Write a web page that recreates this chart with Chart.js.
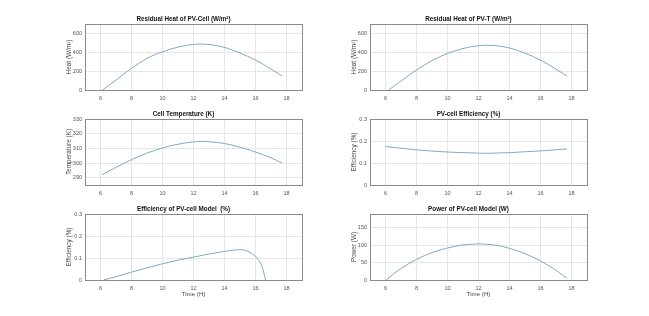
<!DOCTYPE html>
<html>
<head>
<meta charset="utf-8">
<script src="https://cdn.jsdelivr.net/npm/chart.js@4.4.1/dist/chart.umd.min.js"></script>
<style>
  html, body { margin: 0; padding: 0; background: #fff; }
  body { width: 649px; height: 316px; position: relative; overflow: hidden; }
  canvas { position: absolute; }
</style>
</head>
<body>
<canvas id="c1"></canvas>
<canvas id="c2"></canvas>
<canvas id="c3"></canvas>
<canvas id="c4"></canvas>
<canvas id="c5"></canvas>
<canvas id="c6"></canvas>
<script>
// Time axis ticks (hours)
const xTicks = [6, 8, 10, 12, 14, 16, 18];

// Residual heat of PV-cell (W/m2)
const heatCellTime = [6.15, 6.5, 7, 7.5, 8, 8.5, 9, 9.5, 10, 10.5, 11, 11.5, 12, 12.5, 13, 13.5, 14, 14.5, 15, 15.5, 16, 16.5, 17, 17.7];
const heatCell = [0, 45, 105, 170, 230, 285, 335, 375, 405, 433, 455, 472, 483, 487, 483, 470, 452, 425, 392, 357, 318, 272, 222, 150];

// Residual heat of PV-T (W/m2)
const heatPvtTime = [6.2, 6.5, 7, 7.5, 8, 8.5, 9, 9.5, 10, 10.5, 11, 11.5, 12, 12.5, 13, 13.5, 14, 14.5, 15, 15.5, 16, 16.5, 17, 17.7];
const heatPvt = [0, 35, 95, 155, 212, 265, 312, 352, 388, 416, 440, 458, 470, 475, 472, 462, 446, 421, 391, 356, 317, 271, 221, 150];
const heatTicks = [0, 200, 400, 600];

// Cell temperature (K)
const tempTime = [6.1, 7, 8, 9, 10, 11, 12, 12.5, 13, 14, 15, 16, 17, 17.7];
const cellTemp = [292, 297, 302.3, 306.7, 310.3, 312.8, 314.4, 314.7, 314.5, 313.3, 310.8, 307.5, 303.5, 300];
const tempTicks = [290, 300, 310, 320, 330];

// PV-cell efficiency
const effTime = [6, 7, 8, 9, 10, 11, 12, 12.5, 13, 14, 15, 16, 17, 17.7];
const cellEff = [0.175, 0.167, 0.16, 0.154, 0.15, 0.147, 0.145, 0.144, 0.145, 0.147, 0.151, 0.155, 0.16, 0.164];
const effTicks = [0, 0.1, 0.2, 0.3];

// Efficiency of PV-cell model
const modelEffTime = [6.2, 7, 8, 9, 10, 11, 12, 13, 14, 14.5, 15, 15.4, 15.8, 16.1, 16.4, 16.55, 16.65];
const modelEff = [0, 0.015, 0.036, 0.055, 0.074, 0.09, 0.104, 0.118, 0.13, 0.135, 0.138, 0.134, 0.118, 0.1, 0.065, 0.03, 0];

// Power of PV-cell model (W)
const powerTime = [6.05, 6.5, 7, 7.5, 8, 8.5, 9, 9.5, 10, 10.5, 11, 11.5, 12, 12.5, 13, 13.5, 14, 14.5, 15, 15.5, 16, 16.5, 17, 17.7];
const power = [0, 17, 33, 47, 59, 70, 79, 86, 92, 97, 101, 103, 104, 103, 101, 97, 91, 84, 76, 66, 55, 42, 28, 5];
const powerTicks = [0, 50, 100, 150];

const FONT = 'Arial, "Liberation Sans", Helvetica, sans-serif';
const LINE = '#7eaac6';

// Draw the full box around the axes area (MATLAB style)
const boxPlugin = {
    id: 'box',
    afterDraw(chart) {
        const a = chart.chartArea;
        const ctx = chart.ctx;
        ctx.save();
        ctx.strokeStyle = '#8a8a8a';
        ctx.lineWidth = 1;
        ctx.strokeRect(Math.round(a.left) + 0.5, Math.round(a.top) + 0.5,
            Math.round(a.right - a.left), Math.round(a.bottom - a.top));
        ctx.restore();
    }
};

function makePlot(id, opts) {
    const canvas = document.getElementById(id);
    const yW = 20;
    const xH = opts.xH;
    const boxW = 217, boxH = 66;
    const topPad = 11;
    const titleSize = 6.3;
    const titleBottom = 1.2;
    const titleH = titleSize * 1.2 + titleBottom;
    canvas.width = yW + boxW + 3;
    canvas.height = topPad + boxH + xH;
    canvas.style.left = (opts.left - yW) + 'px';
    canvas.style.top = (opts.top - topPad) + 'px';

    const points = opts.time.map((t, i) => ({ x: t, y: opts.values[i] }));

    return new Chart(canvas.getContext('2d'), {
        type: 'scatter',
        data: {
            datasets: [{
                data: points,
                showLine: true,
                borderColor: LINE,
                borderWidth: 1,
                pointRadius: 0,
                cubicInterpolationMode: 'monotone',
                fill: false
            }]
        },
        options: {
            responsive: false,
            animation: false,
            layout: { padding: { top: topPad - titleH, right: 3, left: 0, bottom: 0 } },
            plugins: {
                legend: { display: false },
                tooltip: { enabled: false },
                title: {
                    display: true,
                    text: opts.title,
                    color: '#111',
                    font: { family: FONT, size: titleSize, weight: 'bold', lineHeight: 1.2 },
                    padding: { top: 0, bottom: titleBottom }
                }
            },
            scales: {
                x: {
                    type: 'linear',
                    min: 5,
                    max: 19,
                    afterBuildTicks: s => { s.ticks = xTicks.map(v => ({ value: v })); },
                    afterFit: s => { s.height = xH; },
                    grid: { color: '#e6e6e6', drawTicks: false },
                    border: { display: false },
                    ticks: { color: '#555', font: { family: FONT, size: 5.5 }, padding: 5, maxRotation: 0 },
                    title: {
                        display: !!opts.xTitle,
                        text: opts.xTitle || '',
                        color: '#444',
                        font: { family: FONT, size: 6.2 },
                        padding: 0
                    }
                },
                y: {
                    type: 'linear',
                    min: opts.yMin,
                    max: opts.yMax,
                    afterBuildTicks: s => { s.ticks = opts.yTicks.map(v => ({ value: v })); },
                    afterFit: s => { s.width = yW; },
                    grid: { color: '#e6e6e6', drawTicks: false },
                    border: { display: false },
                    ticks: {
                        color: '#555',
                        font: { family: FONT, size: 5.5 },
                        padding: 3,
                        callback: v => String(v)
                    },
                    title: {
                        display: true,
                        text: opts.yTitle,
                        color: '#444',
                        font: { family: FONT, size: 6.4 },
                        padding: 0
                    }
                }
            }
        },
        plugins: [boxPlugin]
    });
}

makePlot('c1', {
    left: 85, top: 24, xH: 16,
    title: 'Residual Heat of PV-Cell (W/m\u00b2)',
    yTitle: 'Heat (W/m\u00b2)',
    time: heatCellTime, values: heatCell,
    yMin: 0, yMax: 700, yTicks: heatTicks
});

makePlot('c2', {
    left: 370, top: 24, xH: 16,
    title: 'Residual Heat of PV-T (W/m\u00b2)',
    yTitle: 'Heat (W/m\u00b2)',
    time: heatPvtTime, values: heatPvt,
    yMin: 0, yMax: 700, yTicks: heatTicks
});

makePlot('c3', {
    left: 85, top: 119, xH: 16,
    title: 'Cell Temperature (K)',
    yTitle: 'Temperature (K)',
    time: tempTime, values: cellTemp,
    yMin: 285, yMax: 330, yTicks: tempTicks
});

makePlot('c4', {
    left: 370, top: 119, xH: 16,
    title: 'PV-cell Efficiency (%)',
    yTitle: 'Efficiency (%)',
    time: effTime, values: cellEff,
    yMin: 0, yMax: 0.3, yTicks: effTicks
});

makePlot('c5', {
    left: 85, top: 214, xH: 18,
    title: 'Efficiency of PV-cell Model  (%)',
    yTitle: 'Efficiency (%)',
    xTitle: 'Time (H)',
    time: modelEffTime, values: modelEff,
    yMin: 0, yMax: 0.3, yTicks: effTicks
});

makePlot('c6', {
    left: 370, top: 214, xH: 18,
    title: 'Power of PV-cell Model (W)',
    yTitle: 'Power (W)',
    xTitle: 'Time (H)',
    time: powerTime, values: power,
    yMin: 0, yMax: 190, yTicks: powerTicks
});
</script>
</body>
</html>
